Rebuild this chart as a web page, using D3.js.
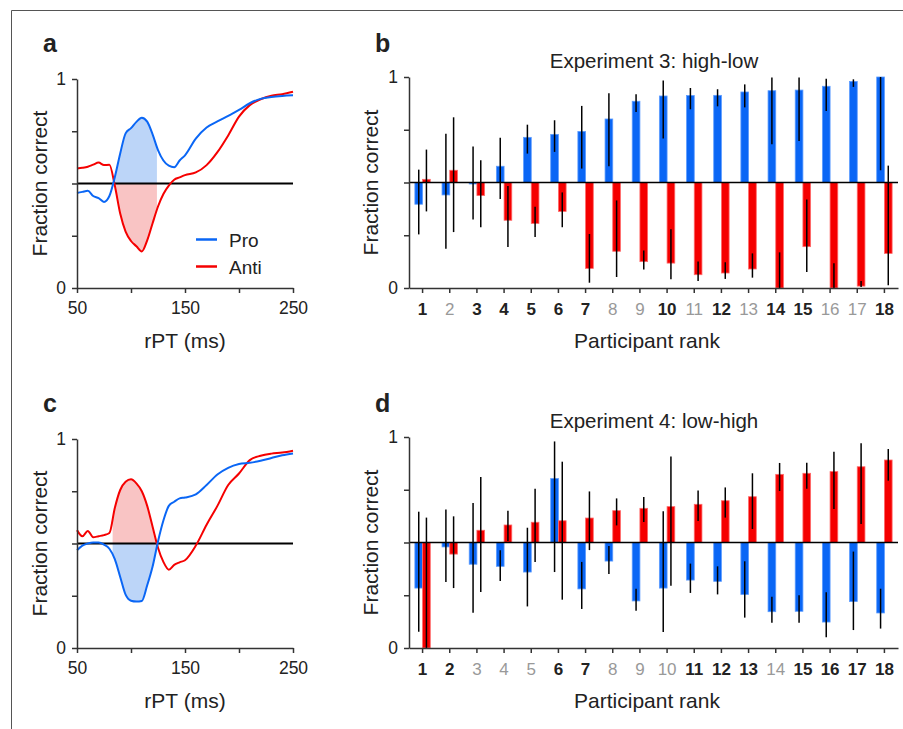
<!DOCTYPE html>
<html>
<head>
<meta charset="utf-8">
<script src="https://cdn.jsdelivr.net/npm/d3@7"></script>
<style>
  body { margin: 0; background: #fff; }
  svg { display: block; font-family: "Liberation Sans", Arial, sans-serif; }
</style>
</head>
<body>
<svg id="fig" width="903" height="729"></svg>
<script>
// --- data: reaction-time curves (panels a, c) ---
const rpt = [50, 55, 60, 65, 70, 75, 80, 85, 90, 95, 100, 105, 110, 115, 120, 125, 130, 135, 140, 145, 150, 160, 170, 180, 190, 200, 210, 220, 230, 240, 250];
const proA  = [0.455, 0.46, 0.465, 0.44, 0.43, 0.412, 0.44, 0.53, 0.644, 0.74, 0.765, 0.795, 0.815, 0.796, 0.735, 0.66, 0.61, 0.585, 0.578, 0.61, 0.635, 0.715, 0.768, 0.797, 0.824, 0.852, 0.884, 0.905, 0.914, 0.919, 0.922];
const antiA = [0.572, 0.575, 0.58, 0.59, 0.6, 0.588, 0.59, 0.49, 0.356, 0.27, 0.225, 0.2, 0.175, 0.228, 0.31, 0.39, 0.45, 0.49, 0.518, 0.529, 0.54, 0.553, 0.588, 0.65, 0.73, 0.82, 0.875, 0.903, 0.92, 0.927, 0.939];
const proC  = [0.468, 0.49, 0.5, 0.505, 0.505, 0.495, 0.475, 0.425, 0.34, 0.255, 0.226, 0.222, 0.225, 0.3, 0.39, 0.51, 0.61, 0.68, 0.7, 0.716, 0.72, 0.735, 0.78, 0.83, 0.862, 0.88, 0.886, 0.896, 0.909, 0.922, 0.931];
const antiC = [0.564, 0.535, 0.56, 0.53, 0.535, 0.54, 0.55, 0.67, 0.756, 0.795, 0.807, 0.788, 0.75, 0.68, 0.58, 0.48, 0.412, 0.375, 0.398, 0.41, 0.42, 0.49, 0.59, 0.68, 0.78, 0.835, 0.899, 0.92, 0.93, 0.935, 0.944];
const shadeA = [84, 124];
const shadeC = [83, 124];

// --- data: per participant (panels b, d) ---
const ranks = [1, 2, 3, 4, 5, 6, 7, 8, 9, 10, 11, 12, 13, 14, 15, 16, 17, 18];

const exp3Pro     = [0.397, 0.441, 0.493, 0.577, 0.714, 0.728, 0.742, 0.801, 0.885, 0.910, 0.912, 0.913, 0.929, 0.935, 0.938, 0.956, 0.979, 1.0];
const exp3ProLo   = [0.254, 0.186, 0.325, 0.422, 0.637, 0.645, 0.566, 0.577, 0.834, 0.708, 0.847, 0.861, 0.856, 0.681, 0.697, 0.839, 0.953, 0.558];
const exp3ProHi   = [0.561, 0.731, 0.671, 0.712, 0.774, 0.795, 0.863, 0.923, 0.918, 0.984, 0.948, 0.942, 0.965, 0.998, 0.998, 0.992, 0.989, 1.0];
const exp3Anti    = [0.515, 0.558, 0.438, 0.321, 0.306, 0.363, 0.093, 0.174, 0.125, 0.118, 0.063, 0.071, 0.090, 0.0, 0.196, 0.0, 0.009, 0.164];
const exp3AntiLo  = [0.363, 0.265, 0.288, 0.194, 0.242, 0.288, 0.025, 0.052, 0.088, 0.041, 0.033, 0.043, 0.049, 0.0, 0.076, 0.0, 0.005, 0.013];
const exp3AntiHi  = [0.656, 0.809, 0.605, 0.483, 0.385, 0.453, 0.256, 0.415, 0.178, 0.278, 0.126, 0.122, 0.164, 0.169, 0.420, 0.117, 0.033, 0.580];
const exp3Bold    = [1, 0, 1, 1, 1, 1, 1, 0, 0, 1, 0, 1, 0, 1, 1, 0, 0, 1];

const exp4Pro     = [0.284, 0.479, 0.397, 0.387, 0.360, 0.803, 0.280, 0.412, 0.223, 0.284, 0.322, 0.316, 0.254, 0.172, 0.174, 0.123, 0.220, 0.166];
const exp4ProLo   = [0.077, 0.313, 0.167, 0.318, 0.197, 0.360, 0.185, 0.351, 0.177, 0.076, 0.261, 0.254, 0.144, 0.120, 0.120, 0.051, 0.085, 0.092];
const exp4ProHi   = [0.646, 0.656, 0.687, 0.463, 0.570, 0.979, 0.408, 0.483, 0.281, 0.648, 0.400, 0.387, 0.411, 0.243, 0.250, 0.264, 0.457, 0.281];
const exp4Anti    = [0.0, 0.445, 0.558, 0.583, 0.596, 0.603, 0.616, 0.651, 0.662, 0.670, 0.681, 0.698, 0.717, 0.823, 0.828, 0.836, 0.859, 0.891];
const exp4AntiLo  = [0.0, 0.284, 0.265, 0.507, 0.408, 0.229, 0.464, 0.581, 0.597, 0.295, 0.602, 0.618, 0.564, 0.744, 0.755, 0.659, 0.588, 0.793];
const exp4AntiHi  = [0.618, 0.624, 0.810, 0.651, 0.755, 0.883, 0.742, 0.709, 0.716, 0.907, 0.747, 0.761, 0.828, 0.877, 0.878, 0.930, 0.970, 0.943];
const exp4Bold    = [1, 1, 0, 0, 0, 1, 1, 0, 0, 0, 1, 1, 1, 0, 1, 1, 1, 1];

const yTicks = [0, 0.25, 0.5, 0.75, 1];
const xTicks = [50, 100, 150, 200, 250];

// colours
const BLUE = "#0a66f5", RED = "#f50000";
const BLUE_FILL = "#bcd5f8", RED_FILL = "#f9c4c4";
const AXIS = "#333";

const svg = d3.select("#fig");

// frame (top + left rule)
svg.append("line").attr("x1", 11.5).attr("x2", 903).attr("y1", 10.5).attr("y2", 10.5).attr("stroke", "#555");
svg.append("line").attr("x1", 11.5).attr("x2", 11.5).attr("y1", 10.5).attr("y2", 729).attr("stroke", "#555");

function styleAxis(g) {
  g.selectAll(".domain").attr("stroke", AXIS).attr("stroke-width", 1.5);
  g.selectAll(".tick line").attr("stroke", AXIS).attr("stroke-width", 1.5);
  g.selectAll(".tick text").attr("fill", "#222").attr("font-family", "Liberation Sans, Arial, sans-serif");
}

function panelLetter(t, x, y) {
  svg.append("text").attr("x", x).attr("y", y).text(t)
    .attr("font-size", 25).attr("font-weight", "bold").attr("fill", "#222");
}

function yLabel(x, yMid) {
  svg.append("text").attr("transform", `translate(${x},${yMid}) rotate(-90)`)
    .attr("text-anchor", "middle").attr("font-size", 21).attr("fill", "#222")
    .text("Fraction correct");
}

// ---------- line panel ----------
function linePanel(opt) {
  const x = d3.scaleLinear().domain([50, 250]).range([77, 293]);
  const y = d3.scaleLinear().domain([0, 1]).range([opt.bottom, opt.top]);
  const g = svg.append("g");

  const clipId = "clip" + opt.letter;
  g.append("clipPath").attr("id", clipId).append("rect")
    .attr("x", x(opt.shade[0])).attr("width", x(opt.shade[1]) - x(opt.shade[0]))
    .attr("y", opt.top).attr("height", opt.bottom - opt.top);

  const area = vals => d3.area().x((d, i) => x(rpt[i])).y0(y(0.5)).y1(d => y(d)).curve(d3.curveMonotoneX)(vals);
  g.append("path").attr("d", area(opt.pro)).attr("fill", BLUE_FILL).attr("clip-path", `url(#${clipId})`);
  g.append("path").attr("d", area(opt.anti)).attr("fill", RED_FILL).attr("clip-path", `url(#${clipId})`);

  // chance line
  g.append("line").attr("x1", x(50)).attr("x2", x(250)).attr("y1", y(0.5)).attr("y2", y(0.5))
    .attr("stroke", "#000").attr("stroke-width", 2);

  const line = d3.line().x((d, i) => x(rpt[i])).y(d => y(d)).curve(d3.curveMonotoneX);
  g.append("path").attr("d", line(opt.anti)).attr("fill", "none").attr("stroke", RED).attr("stroke-width", 2);
  g.append("path").attr("d", line(opt.pro)).attr("fill", "none").attr("stroke", BLUE).attr("stroke-width", 2);

  const ax = g.append("g").attr("transform", `translate(0,${opt.bottom})`)
    .call(d3.axisBottom(x).tickValues(xTicks).tickSize(5).tickSizeOuter(0).tickPadding(9)
      .tickFormat(d => (d === 100 || d === 200) ? "" : d));
  ax.selectAll(".tick text").attr("font-size", 17.5);
  styleAxis(ax);

  const ay = g.append("g").attr("transform", `translate(77,0)`)
    .call(d3.axisLeft(y).tickValues(yTicks).tickSize(5).tickSizeOuter(0).tickPadding(6)
      .tickFormat(d => (d === 0 || d === 1) ? d : ""));
  ay.selectAll(".tick text").attr("font-size", 17.5);
  styleAxis(ay);

  svg.append("text").attr("x", 185).attr("y", opt.bottom + 60).attr("text-anchor", "middle")
    .attr("font-size", 21).attr("fill", "#222").text("rPT (ms)");
  yLabel(47, y(0.5));
  panelLetter(opt.letter, 43, opt.top - 27);

  if (opt.legend) {
    const items = [["Pro", BLUE], ["Anti", RED]];
    items.forEach((it, i) => {
      const ly = 239.5 + i * 27;
      svg.append("line").attr("x1", 196).attr("x2", 217).attr("y1", ly).attr("y2", ly)
        .attr("stroke", it[1]).attr("stroke-width", 2.5);
      svg.append("text").attr("x", 229).attr("y", ly + 7).attr("font-size", 19)
        .attr("fill", "#222").text(it[0]);
    });
  }
}

// ---------- bar panel ----------
function barPanel(opt) {
  const x = d3.scaleBand().domain(ranks).range([409, 898]).padding(0);
  const y = d3.scaleLinear().domain([0, 1]).range([opt.bottom, opt.top]);
  const g = svg.append("g");
  const bw = 7.7;

  const rows = ranks.map((r, i) => ({
    r, pro: opt.pro[i], proLo: opt.proLo[i], proHi: opt.proHi[i],
    anti: opt.anti[i], antiLo: opt.antiLo[i], antiHi: opt.antiHi[i], bold: opt.bold[i]
  }));
  const cx = r => x(r) + x.bandwidth() / 2;

  g.selectAll("rect.pro").data(rows).join("rect").attr("class", "pro")
    .attr("x", d => cx(d.r) - bw).attr("width", bw)
    .attr("y", d => Math.min(y(d.pro), y(0.5))).attr("height", d => Math.abs(y(d.pro) - y(0.5)))
    .attr("fill", BLUE).attr("stroke", "#5c9cff").attr("stroke-width", 0.8);
  g.selectAll("rect.anti").data(rows).join("rect").attr("class", "anti")
    .attr("x", d => cx(d.r)).attr("width", bw)
    .attr("y", d => Math.min(y(d.anti), y(0.5))).attr("height", d => Math.abs(y(d.anti) - y(0.5)))
    .attr("fill", RED).attr("stroke", "#ff6a6a").attr("stroke-width", 0.8);

  // chance line
  g.append("line").attr("x1", 409).attr("x2", 898).attr("y1", y(0.5)).attr("y2", y(0.5))
    .attr("stroke", "#000").attr("stroke-width", 1.5);

  // error bars
  g.selectAll("line.epro").data(rows).join("line").attr("class", "epro")
    .attr("x1", d => cx(d.r) - bw / 2).attr("x2", d => cx(d.r) - bw / 2)
    .attr("y1", d => y(d.proLo)).attr("y2", d => y(d.proHi))
    .attr("stroke", "#000").attr("stroke-width", 1.5);
  g.selectAll("line.eanti").data(rows).join("line").attr("class", "eanti")
    .attr("x1", d => cx(d.r) + bw / 2).attr("x2", d => cx(d.r) + bw / 2)
    .attr("y1", d => y(d.antiLo)).attr("y2", d => y(d.antiHi))
    .attr("stroke", "#000").attr("stroke-width", 1.5);

  const ax = g.append("g").attr("transform", `translate(0,${opt.bottom})`)
    .call(d3.axisBottom(x).tickSize(5).tickSizeOuter(0).tickPadding(10));
  styleAxis(ax);
  ax.selectAll(".tick text").attr("font-size", 17)
    .attr("font-weight", (d, i) => opt.bold[i] ? "bold" : "normal")
    .attr("fill", (d, i) => opt.bold[i] ? "#222" : "#999");

  const ay = g.append("g").attr("transform", `translate(409,0)`)
    .call(d3.axisLeft(y).tickValues(yTicks).tickSize(5).tickSizeOuter(0).tickPadding(6)
      .tickFormat(d => (d === 0 || d === 1) ? d : ""));
  ay.selectAll(".tick text").attr("font-size", 17.5);
  styleAxis(ay);

  svg.append("text").attr("x", 654).attr("y", opt.top - 9).attr("text-anchor", "middle")
    .attr("font-size", 20.5).attr("fill", "#222").text(opt.title);
  svg.append("text").attr("x", 647).attr("y", opt.bottom + 60).attr("text-anchor", "middle")
    .attr("font-size", 21).attr("fill", "#222").text("Participant rank");
  yLabel(378, y(0.5));
  panelLetter(opt.letter, 375, opt.top - 25);
}

linePanel({ letter: "a", top: 79, bottom: 288, pro: proA, anti: antiA, shade: shadeA, legend: true });
linePanel({ letter: "c", top: 439, bottom: 648, pro: proC, anti: antiC, shade: shadeC, legend: false });

barPanel({ letter: "b", top: 77, bottom: 288, title: "Experiment 3: high-low",
  pro: exp3Pro, proLo: exp3ProLo, proHi: exp3ProHi, anti: exp3Anti, antiLo: exp3AntiLo, antiHi: exp3AntiHi, bold: exp3Bold });
barPanel({ letter: "d", top: 437, bottom: 648, title: "Experiment 4: low-high",
  pro: exp4Pro, proLo: exp4ProLo, proHi: exp4ProHi, anti: exp4Anti, antiLo: exp4AntiLo, antiHi: exp4AntiHi, bold: exp4Bold });
</script>
</body>
</html>
